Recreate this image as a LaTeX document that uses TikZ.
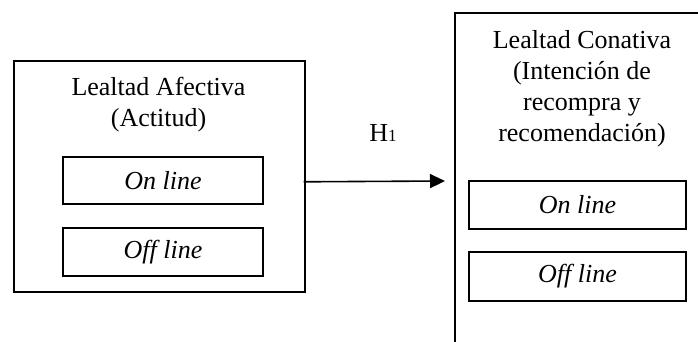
\documentclass[tikz,border=0pt]{standalone}
\usepackage{fontspec}
\setmainfont{Liberation Serif}
\usetikzlibrary{arrows.meta,calc}

\tikzset{
  frame/.style={draw=black, line width=0.8pt, rectangle, inner sep=0pt},
  chan/.style={frame, minimum width=#1, font=\fontsize{13pt}{15.5pt}\selectfont\itshape},
  heading/.style={align=center, inner sep=0pt, anchor=north,
    font=\fontsize{13pt}{15.5pt}\selectfont},
  link/.style={line width=0.8pt, -{Triangle[length=7.5pt,width=7pt]}}
}

\begin{document}
\begin{tikzpicture}[x=0.5pt, y=-0.5pt]
  \useasboundingbox (0,0) rectangle (698,342);
  \clip (0,0) rectangle (698,342);

  % attitudinal loyalty block
  \node[frame, anchor=north west, minimum width=145.5pt, minimum height=115.5pt]
    (afect) at (13,60) {};
  \node[heading] (afecttitle) at (158.5,77) {Lealtad Afectiva\\(Actitud)};
  \node[chan=100pt, minimum height=23.5pt] (afecton) at (163,180.5) {On line};
  \node[chan=100pt, minimum height=24pt] (afectoff) at (163,252) {Off line};

  % conative loyalty block (runs past the right and bottom edges)
  \node[frame, anchor=north west, minimum width=140pt, minimum height=180pt]
    (conat) at (454,12) {};
  \node[heading] (conattitle) at (582,30)
    {Lealtad Conativa\\(Intención de\\recompra y\\recomendación)};
  \node[chan=108.5pt, minimum height=24pt] (conaton) at (577.5,205) {On line};
  \node[chan=108.5pt, minimum height=24.5pt] (conatoff) at (577.5,276.5) {Off line};

  % hypothesis H1
  \coordinate (tip) at (445,181);
  \draw[link] ($(afect.east)+(-2,5.5)$) -- (tip);
  \node[anchor=base west, inner sep=0pt, font=\fontsize{13pt}{15.5pt}\selectfont]
    (hyp) at (369,142) {H{\fontsize{8.5pt}{10pt}\selectfont 1}};
\end{tikzpicture}
\end{document}
